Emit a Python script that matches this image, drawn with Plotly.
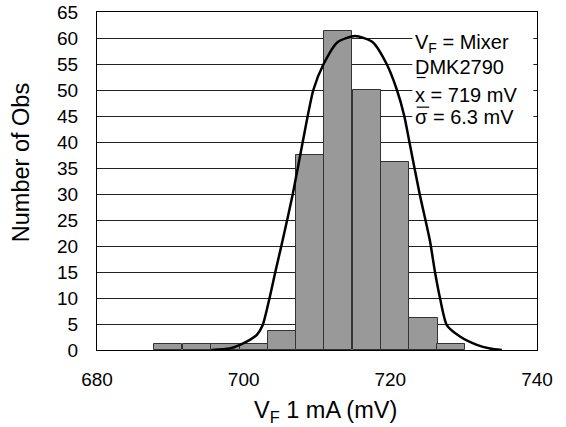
import plotly.graph_objects as go

# Histogram bins (bin centres, mV) and counts
bin_centers = [689.7, 693.6, 697.5, 701.4, 705.2, 709.1, 712.9, 716.8, 720.6, 724.5, 728.3]
counts = [1.1, 1.1, 1.1, 1.1, 3.7, 37.5, 61.3, 50.0, 36.2, 6.2, 1.1]
bin_width = 3.87

# Fitted curve
curve_x = [695.6, 698.1, 699.5, 700.9, 701.8, 702.6, 703.5, 704.3, 705.3, 706.7, 708.05,
           709.5, 710.9, 712.8, 715.2, 717.6, 719.5, 720.9, 721.9, 722.6, 724.0,
           725.4, 726.1, 726.8, 727.7, 729.5, 731.8, 733.6, 735.2]
curve_y = [0.0, 0.3, 1.0, 2.0, 2.9, 4.8, 9.8, 14.9, 21.0, 30.0, 40.0,
           50.0, 55.0, 59.2, 60.4, 59.2, 55.0, 50.0, 45.0, 40.0, 30.0,
           21.0, 14.9, 9.8, 4.8, 2.6, 1.0, 0.3, 0.0]

x_ticks = [680, 700, 720, 740]
y_ticks = list(range(0, 70, 5))

FONT = "Liberation Sans, Arial, Helvetica, sans-serif"

fig = go.Figure()
fig.add_trace(go.Bar(
    x=bin_centers, y=counts, width=bin_width,
    marker=dict(color="#999999", line=dict(color="#333333", width=1)),
    showlegend=False,
))
fig.add_trace(go.Scatter(
    x=curve_x, y=curve_y, mode="lines",
    line=dict(color="black", width=2.5, shape="spline", smoothing=0.6),
    showlegend=False,
))

# white box behind the text (covers gridlines)
fig.add_shape(type="rect", xref="x", yref="y", layer="between",
              x0=723.0, x1=739.5, y0=43.0, y1=62.5,
              fillcolor="white", line=dict(width=0))

lines = [
    ("V<sub>F</sub> = Mixer", 59.0),
    ("DMK2790", 54.4),
    ("x = 719 mV", 49.0),
    ("\u03c3 = 6.3 mV", 44.8),
]
for txt, yv in lines:
    fig.add_annotation(x=723.1, y=yv, xref="x", yref="y", text=txt,
                       showarrow=False, xanchor="left", yanchor="middle",
                       font=dict(family=FONT, size=20, color="black"))

# overlines (mean / sigma bars)
for x0, x1, yv in [(723.6, 724.8, 52.4), (723.6, 725.3, 46.7)]:
    fig.add_shape(type="line", xref="x", yref="y", x0=x0, x1=x1, y0=yv, y1=yv,
                  line=dict(color="black", width=1.2))

# axis titles
fig.add_annotation(x=-0.171, y=0.555, xref="paper", yref="paper",
                   text="Number of Obs", textangle=-90, showarrow=False,
                   xanchor="center", yanchor="middle",
                   font=dict(family=FONT, size=23.5, color="black"))
fig.add_annotation(x=0.519, y=-0.1825, xref="paper", yref="paper",
                   text="V<sub>F</sub> 1 mA (mV)", showarrow=False,
                   xanchor="center", yanchor="middle",
                   font=dict(family=FONT, size=23.5, color="black"))

fig.update_layout(
    width=566, height=427,
    margin=dict(l=97, r=29, t=12, b=77),
    paper_bgcolor="white", plot_bgcolor="white",
    bargap=0,
    font=dict(family=FONT, size=19, color="black"),
)
fig.update_xaxes(
    range=[680, 740], tickvals=x_ticks, ticktext=[str(v) for v in x_ticks],
    showgrid=False, showline=True, linecolor="black", linewidth=1, mirror=True,
    ticks="outside", ticklen=12, tickcolor="rgba(0,0,0,0)",
    zeroline=False, automargin=False, ticklabeloverflow="allow",
)
fig.update_yaxes(
    range=[0, 65], tickvals=y_ticks,
    showgrid=True, gridcolor="#222222", gridwidth=1,
    showline=True, linecolor="black", linewidth=1, mirror=True,
    ticks="outside", ticklen=14, tickcolor="rgba(0,0,0,0)",
    zeroline=False, automargin=False, ticklabeloverflow="allow",
)

fig.write_html("out.html", config={"displayModeBar": False},
               post_script="document.body.style.margin='0';")
